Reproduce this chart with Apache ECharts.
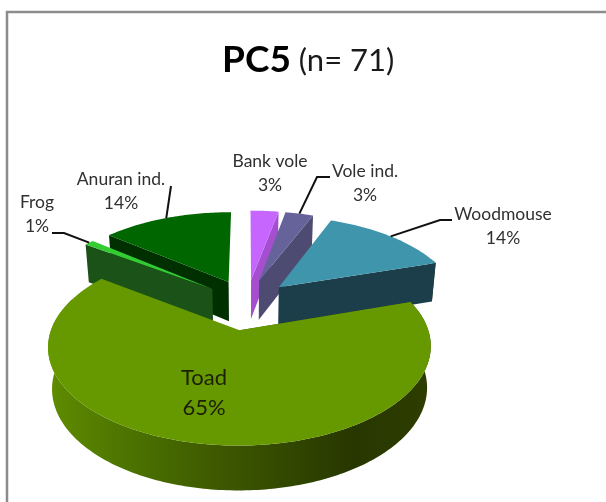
<!DOCTYPE html>
<html>
<head>
<meta charset="utf-8">
<style>html,body{margin:0;padding:0;background:#fff}#c{width:606px;height:502px}</style>
<script src="https://cdn.jsdelivr.net/npm/echarts@6/dist/echarts.min.js"></script>
</head>
<body>
<div id="c"></div>
<script>
// ---- data ----
const categories = ['Bank vole', 'Vole ind.', 'Woodmouse', 'Toad', 'Frog', 'Anuran ind.'];
const percents = [3, 3, 14, 65, 1, 14];
const titleMain = 'PC5';
const titleSub = '(n= 71)';

// ---- styles ----
const topColors = ['#c666ff', '#65639a', '#3f95ac', '#669900', '#33cc33', '#006600'];
const wallColors = ['#a54fd0', '#4e4b72', '#1c3d4a', '#3c5500', '#1a5217', '#003000'];
const TOAD_WALL = [[0, '#5f8c00'], [0.2, '#4d7400'], [0.45, '#3d5800'], [0.8, '#273700'], [1, '#2e3e00']];

// ---- projection of the tilted, exploded pie ----
const cx = 247, cy = 304, sx = 180, ky = 87.4, persp = 0.16, depth = 40, explodeX = 0.25, explodeY = 0.29, bottomScale = 0.98;
function project(X, Y, Z) {
  const d = 1 + persp * Y;
  const f = Z ? bottomScale : 1;
  return [cx + f * sx * X / d, cy - ky * Y / d + Z * depth / Math.sqrt(d)];
}
const total = percents.reduce((a, b) => a + b, 0);
let acc = 0;
const slices = percents.map((v) => {
  const a0 = acc / total * 360;
  acc += v;
  const a1 = acc / total * 360;
  const mid = (a0 + a1) / 2 * Math.PI / 180;
  return { a0, a1, ox: explodeX * Math.sin(mid), oy: explodeY * Math.cos(mid), mid: (a0 + a1) / 2 };
});
const rim = (s, deg, Z) => {
  const r = deg * Math.PI / 180;
  return project(s.ox + Math.sin(r), s.oy + Math.cos(r), Z);
};
const apex = (s, Z) => project(s.ox, s.oy, Z);
const order = slices.map((s, i) => [s.oy, i]).sort((a, b) => b[0] - a[0]).map((p) => p[1]);

function arcPts(s, from, to, Z) {
  const pts = [];
  const n = Math.max(2, Math.ceil(Math.abs(to - from)));
  for (let i = 0; i <= n; i++) pts.push(rim(s, from + (to - from) * i / n, Z));
  return pts;
}

function renderSlice(params) {
  const i = params.dataIndex;
  const s = slices[i];
  const base = order.indexOf(i) * 10;
  const children = [];
  // front-facing outer wall
  const from = Math.max(s.a0, 70), to = Math.min(s.a1, 290);
  if (to > from) {
    const pts = arcPts(s, from, to, 0).concat(arcPts(s, to, from, 1));
    children.push({
      type: 'polygon', z2: base, shape: { points: pts },
      style: { fill: { type: 'linear', x: 48, y: 0, x2: 431, y2: 0, global: true, colorStops: TOAD_WALL.map((c) => ({ offset: c[0], color: c[1] })) } }
    });
  }
  // visible cut face
  const edge = Math.sin(s.mid * Math.PI / 180) < 0 ? s.a0 : s.a1;
  children.push({
    type: 'polygon', z2: base + 1,
    shape: { points: [apex(s, 0), rim(s, edge, 0), rim(s, edge, 1), apex(s, 1)] },
    style: { fill: wallColors[i] }
  });
  // top face
  children.push({
    type: 'polygon', z2: base + 2,
    shape: { points: [apex(s, 0)].concat(arcPts(s, s.a0, s.a1, 0)) },
    style: { fill: topColors[i] }
  });
  return { type: 'group', children };
}

// ---- label layout (text anchor, optional knee from the slice's rim) ----
const LABEL_FONT = '17.5px Lato, "Open Sans", sans-serif';
const labelLayout = [
  { x: 270, y: 173 },
  { x: 365, y: 183, knee: [[317, 177], [330, 177]] },
  { x: 503, y: 226, knee: [[440, 220], [452, 220]] },
  { x: 204, y: 393, big: true },
  { x: 37, y: 214, knee: [[64, 233], [52, 233]] },
  { x: 121, y: 191, knee: [[171, 186]] }
];

function renderLabel(params) {
  const i = params.dataIndex;
  const l = labelLayout[i];
  const s = slices[i];
  const children = [{
    type: 'text', z2: 100,
    style: {
      x: l.x, y: l.y, text: categories[i] + '\n' + percents[i] + '%',
      fill: l.big ? '#1c1f00' : '#303030',
      font: l.big ? '22px Lato, "Open Sans", sans-serif' : LABEL_FONT,
      lineHeight: l.big ? 30 : 24,
      align: 'center', verticalAlign: 'middle'
    }
  }];
  if (l.knee) {
    children.push({
      type: 'polyline', z2: 99,
      shape: { points: [rim(s, s.mid, 0)].concat(l.knee) },
      style: { stroke: '#111111', lineWidth: 2, fill: null }
    });
  }
  return { type: 'group', children };
}

const chart = echarts.init(document.getElementById('c'), null, { renderer: 'canvas' });
chart.setOption({
  animation: false,
  backgroundColor: '#ffffff',
  title: {
    text: '{a|' + titleMain + '} {b|' + titleSub + '}',
    left: 222, top: 42, padding: 0,
    textStyle: {
      rich: {
        a: { fontFamily: 'Lato', fontWeight: 'bold', fontSize: 37, color: '#000000' },
        b: { fontFamily: 'Lato', fontWeight: 'normal', fontSize: 31, color: '#1a1a1a', padding: [0, 0, 0, 3] }
      }
    }
  },
  graphic: [{
    type: 'polyline', silent: true,
    shape: { points: [[7, 502], [7, 12], [606, 12]] },
    style: { stroke: '#8c8c8c', lineWidth: 2.5, fill: null }
  }],
  series: [
    {
      type: 'custom', name: 'PC5', coordinateSystem: 'none', silent: true, z: 2,
      renderItem: renderSlice,
      data: categories.map((c, i) => ({ name: c, value: percents[i] }))
    },
    {
      type: 'custom', name: 'labels', coordinateSystem: 'none', silent: true, z: 3,
      renderItem: renderLabel,
      data: categories.map((c, i) => ({ name: c, value: percents[i] }))
    }
  ]
});
</script>
</body>
</html>
